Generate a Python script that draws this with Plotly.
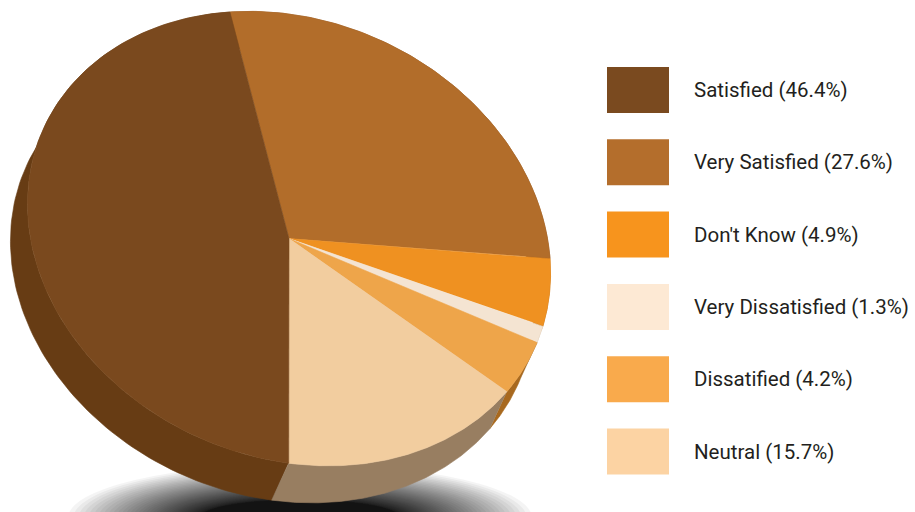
import numpy as np
import plotly.graph_objects as go

# ---- data ----
categories = ["Satisfied", "Very Satisfied", "Don't Know", "Very Dissatisfied", "Dissatified", "Neutral"]
percent = [46.4, 27.6, 4.9, 1.3, 4.2, 15.7]
pct_labels = ["(46.4%)", "(27.6%)", "(4.9%)", "(1.3%)", "(4.2%)", "(15.7%)"]
# clockwise drawing order around the pie, starting at the top boundary
pie_order = ["Very Satisfied", "Don't Know", "Very Dissatisfied", "Dissatified", "Neutral", "Satisfied"]

# ---- styles ----
top_colors = {"Satisfied": "#7a491e", "Very Satisfied": "#b26d2a", "Don't Know": "#ef9121",
              "Very Dissatisfied": "#f4e4d2", "Dissatified": "#eea54a", "Neutral": "#f2cd9f"}
side_colors = {"Satisfied": "#673c14", "Very Satisfied": "#8f5420", "Don't Know": "#b86d14",
               "Very Dissatisfied": "#c9b59e", "Dissatified": "#a8691f", "Neutral": "#987e61"}
legend_colors = {"Satisfied": "#7a4a1f", "Very Satisfied": "#b46e2c", "Don't Know": "#f7941d",
                 "Very Dissatisfied": "#fde9d4", "Dissatified": "#f9aa4c", "Neutral": "#fcd3a3"}

W, H = 915, 512
# projection of the tilted disc (pixel space)
CX, CY = 289.0, 238.6
A, B = -59.1, 254.8
D, E = -226.6, -17.1
DEPTH = np.array([-17.0, 37.0])


def rim(a0, a1, n=120):
    a = np.radians(np.linspace(a0, a1, n))
    x = CX + A * np.cos(a) + B * np.sin(a)
    y = CY + D * np.cos(a) + E * np.sin(a)
    return x, y


val = dict(zip(categories, percent))
total = sum(percent)
slices = []
start = 0.0
for name in pie_order:
    span = val[name] / total * 360.0
    slices.append((name, start, start + span))
    start += span

fig = go.Figure()

# side walls, back first
side_items = []
for name, a0, a1 in slices:
    x, y = rim(a0, a1)
    sx = np.concatenate([x, (x + DEPTH[0])[::-1]])
    sy = np.concatenate([y, (y + DEPTH[1])[::-1]])
    side_items.append((np.mean(y), name, sx, sy))
side_items.sort(key=lambda t: t[0])
for _, name, sx, sy in side_items:
    fig.add_trace(go.Scatter(x=sx, y=sy, mode="lines", fill="toself",
                             fillcolor=side_colors[name], line=dict(width=0.6, color=side_colors[name]),
                             hoverinfo="skip", showlegend=False))

# top faces
for name, a0, a1 in slices:
    x, y = rim(a0, a1)
    px = np.concatenate([[CX], x, [CX]])
    py = np.concatenate([[CY], y, [CY]])
    fig.add_trace(go.Scatter(x=px, y=py, mode="lines", fill="toself",
                             fillcolor=top_colors[name], line=dict(width=0.6, color=top_colors[name]),
                             name=name, hoverinfo="name", showlegend=False))

shapes = []
# soft shadow under the pie
n_sh = 50
for k in range(n_sh):
    t = k / (n_sh - 1)
    f = (1 - t) ** 2
    rx = 100 + 132 * f
    ry = 18 + 36 * f
    cx, cy = 300, 518
    shapes.append(dict(type="circle", xref="x", yref="y", x0=cx - rx, x1=cx + rx,
                       y0=cy - ry, y1=cy + ry, fillcolor="rgba(0,0,0,0.045)",
                       line=dict(width=0), layer="below"))

annotations = []
for i, name in enumerate(categories):
    y0 = 67 + i * 72.3
    shapes.append(dict(type="rect", xref="x", yref="y", x0=607, x1=669, y0=y0, y1=y0 + 46,
                       fillcolor=legend_colors[name], line=dict(width=0)))
    annotations.append(dict(x=692, y=y0 + 23, xref="x", yref="y", xanchor="left", yanchor="middle",
                            text=f"{name} {pct_labels[i]}", showarrow=False,
                            font=dict(family="Roboto", size=20.5, color="#231f20")))

fig.update_layout(
    width=W, height=H, margin=dict(l=0, r=0, t=0, b=0),
    paper_bgcolor="white", plot_bgcolor="white",
    xaxis=dict(range=[0, W], visible=False, fixedrange=True),
    yaxis=dict(range=[H, 0], visible=False, fixedrange=True),
    shapes=shapes, annotations=annotations,
)

fig.write_html("out.html")
